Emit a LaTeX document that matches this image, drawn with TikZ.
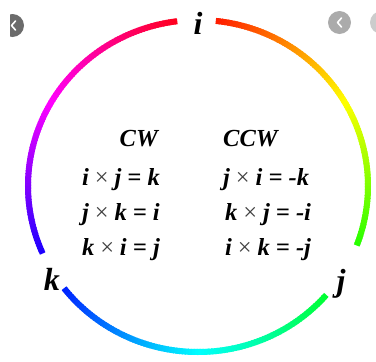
\documentclass[tikz,border=0pt]{standalone}
\usepackage{fontspec}
\setmainfont{Liberation Serif}
\usepackage{tikz}
\usepackage{xcolor}

\newcommand{\crs}{{\normalfont\hspace{0.24em}\textcolor{black!75}{\texttimes}\hspace{0.24em}}}

\begin{document}
\begin{tikzpicture}[x=1pt,y=-1pt,
    rule/.style={inner sep=0pt,font=\fontsize{24.5}{24.5}\selectfont\bfseries\itshape},
    axis/.style={inner sep=0pt,anchor=base,font=\fontsize{32}{32}\selectfont\bfseries\itshape},
    btn/.style={white,line width=1.6pt,line cap=round,line join=round}]
  \useasboundingbox (0,0) rectangle (376,362);
  % colour wheel, hue goes clockwise from the top
  \foreach \s/\e in {6/111,131/232,246/353}{
    \pgfmathtruncatemacro{\last}{\e-1}
    \foreach \t in {\s,...,\last}{
      \pgfmathsetmacro{\u}{min(\t+1.5,\e)}
      \pgfmathsetmacro{\h}{\t+0.75}
      \definecolor{wheelc}{Hsb}{\h,1,1}
      \draw[wheelc,line width=6pt]
        plot[domain=\t:\u,samples=4] ({198+170*sin(\x)},{186-166*cos(\x)});
    }
  }
  \node[axis] (i) at (198,34) {i};
  \node[axis] (j) at (341,291) {j};
  \node[axis] (k) at (52,290) {k};
  \node[rule,anchor=base east] (cw) at (158,146) {CW};
  \node[rule,anchor=base west] (ccw) at (223,146) {CCW};
  \node[rule,anchor=base east] (ij) at (160,185) {i\crs j = k};
  \node[rule,anchor=base east] (jk) at (160,220) {j\crs k = i};
  \node[rule,anchor=base east] (ki) at (160,255) {k\crs i = j};
  \node[rule,anchor=base west] (ji) at (223,185) {j\crs i = -k};
  \node[rule,anchor=base west] (kj) at (225,220) {k\crs j = -i};
  \node[rule,anchor=base west] (ik) at (225,255) {i\crs k = -j};
  % browser buttons
  \begin{scope}
    \clip (10,0) rectangle (376,362);
    \fill[black!58] (12.5,25.5) circle (11.5);
    \draw[btn] (15.5,21) -- (11.5,25.5) -- (15.5,30);
  \end{scope}
  \fill[black!33] (339.5,22.5) circle (11.5);
  \draw[btn] (341.5,18) -- (337.5,22.5) -- (341.5,27);
  \fill[black!20] (381.5,22.5) circle (11.5);
\end{tikzpicture}
\end{document}
